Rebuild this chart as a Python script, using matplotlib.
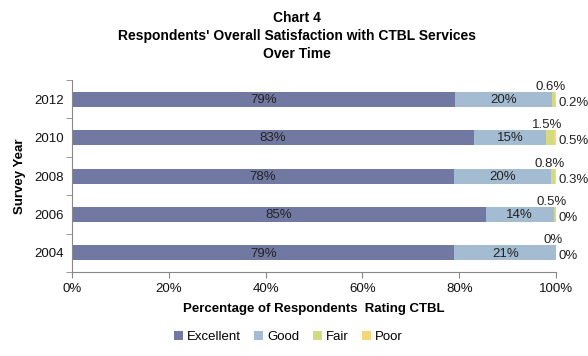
import numpy as np
import matplotlib.pyplot as plt
from matplotlib.ticker import PercentFormatter, FixedLocator

plt.rcParams['font.family'] = ['Liberation Sans', 'DejaVu Sans']

years = ['2004', '2006', '2008', '2010', '2012']
excellent = [79.0, 85.5, 78.9, 83.0, 79.2]
good = [21.0, 14.0, 20.0, 15.0, 20.0]
fair = [0.0, 0.5, 0.8, 1.5, 0.6]
poor = [0.0, 0.0, 0.3, 0.5, 0.2]

excellent_lbl = ['79%', '85%', '78%', '83%', '79%']
good_lbl = ['21%', '14%', '20%', '15%', '20%']
fair_lbl = ['0%', '0.5%', '0.8%', '1.5%', '0.6%']
poor_lbl = ['0%', '0%', '0.3%', '0.5%', '0.2%']

colors = ['#7179A3', '#A4BCD2', '#D2DB7F', '#F7D679']
names = ['Excellent', 'Good', 'Fair', 'Poor']

fig = plt.figure(figsize=(5.88, 3.56), dpi=100)
ax = fig.add_axes([0.1224, 0.236, 0.8232, 0.539])

y = np.arange(len(years))
h = 0.39
left = np.zeros(len(years))
series = [excellent, good, fair, poor]
for vals, col, name in zip(series, colors, names):
    ax.barh(y, vals, height=h, left=left, color=col, label=name)
    left = left + np.array(vals)

# labels inside bars
for i in range(len(years)):
    ax.text(excellent[i] / 2, y[i] - 0.02, excellent_lbl[i], ha='center', va='center', fontsize=9.5, color='#222222')
    ax.text(excellent[i] + good[i] / 2, y[i] - 0.02, good_lbl[i], ha='center', va='center', fontsize=9.5, color='#222222')
    fx = excellent[i] + good[i] + fair[i] / 2
    ax.annotate(fair_lbl[i], (fx, y[i]), xytext=(-2, 9), textcoords='offset points',
                ha='center', va='center', fontsize=9.5, color='#222222')
    ax.annotate(poor_lbl[i], (100, y[i]), xytext=(2, -2.5), textcoords='offset points',
                ha='left', va='center', fontsize=9.5, color='#222222', annotation_clip=False)

ax.set_xlim(0, 100)
ax.set_ylim(-0.5, len(years) - 0.5)
ax.set_xticks(np.arange(0, 101, 20))
ax.xaxis.set_major_formatter(PercentFormatter(decimals=0))
ax.set_yticks(y)
ax.set_yticklabels(years)
ax.yaxis.set_minor_locator(FixedLocator(np.arange(-0.5, len(years), 1)))
ax.tick_params(axis='y', which='major', length=0, pad=6, labelsize=9.5, labelcolor='#111111')
ax.tick_params(axis='y', which='minor', length=4, color='#888888')
ax.tick_params(axis='x', length=4, color='#888888', labelsize=9.5, pad=4, labelcolor='#111111')

for s in ['top', 'right']:
    ax.spines[s].set_visible(False)
for s in ['left', 'bottom']:
    ax.spines[s].set_color('#888888')

ax.set_xlabel('Percentage of Respondents  Rating CTBL', fontsize=9.5, fontweight='bold', labelpad=6)
ax.set_ylabel('Survey Year', fontsize=9.5, fontweight='bold', labelpad=6)

fig.suptitle("Chart 4\nRespondents' Overall Satisfaction with CTBL Services\nOver Time",
             x=0.505, y=0.97, va='top', fontsize=10, fontweight='bold', linespacing=1.4)

ax.legend(loc='center', bbox_to_anchor=(0.49, 0.054), bbox_transform=fig.transFigure,
          ncol=4, frameon=False, handlelength=0.7, handleheight=0.7, handletextpad=0.3,
          columnspacing=1.0, fontsize=9.5)

fig.savefig('out.png', dpi=100)
